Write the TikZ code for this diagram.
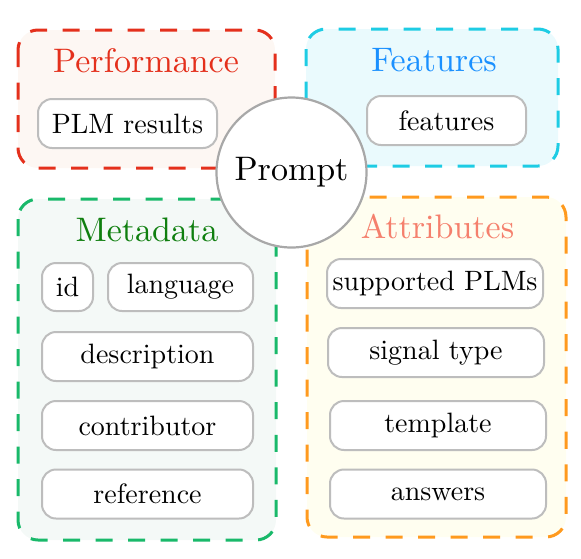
\documentclass[tikz,border=0pt]{standalone}
\usepackage{fontspec}
\setmainfont{lmroman10-regular.otf}
\definecolor{perfline}{HTML}{E4301C}
\definecolor{perffill}{HTML}{FDF7F3}
\definecolor{featline}{HTML}{1ECCE4}
\definecolor{featfill}{HTML}{EAFAFD}
\definecolor{feattext}{HTML}{1A90FF}
\definecolor{metaline}{HTML}{19B96A}
\definecolor{metafill}{HTML}{F4F9F7}
\definecolor{metatext}{HTML}{0F7F0F}
\definecolor{attrline}{HTML}{FF9A1E}
\definecolor{attrfill}{HTML}{FFFEF0}
\definecolor{attrtext}{HTML}{F5806D}
\definecolor{itemline}{HTML}{BDBDBD}
\definecolor{circline}{HTML}{A8A8A8}
\tikzset{
  group/.style={line width=3pt, dash pattern=on 17pt off 15.5pt, rounded corners=20pt},
  item/.style={draw=itemline, line width=2pt, fill=white, rounded corners=14pt,
    minimum height=49pt, inner sep=0pt, font=\fontsize{28}{32}\selectfont},
  title/.style={anchor=base, font=\fontsize{34}{38}\selectfont},
}
\begin{document}
\begin{tikzpicture}[x=1pt,y=-1pt]
\useasboundingbox (0,0) rectangle (581,558);
% group boxes
\draw[group, draw=perfline, fill=perffill] (18,30) rectangle (275,168);
\draw[group, draw=featline, fill=featfill] (306,29) rectangle (558,166);
\draw[group, draw=metaline, fill=metafill] (18,199) rectangle (276,540);
\draw[group, draw=attrline, fill=attrfill] (307,197) rectangle (566,537);
% titles
\node[title, text=perfline] (tperf) at (146,72) {Performance};
\node[title, text=feattext] (tfeat) at (434,71) {Features};
\node[title, text=metatext] (tmeta) at (147,241) {Metadata};
\node[title, text=attrtext] (tattr) at (437.5,238) {Attributes};
% items
\node[item, minimum width=179pt] (plm) at (127.5,123.5) {PLM results};
\node[item, minimum width=159pt] (feat) at (446.5,120.5) {features};
\node[item, minimum width=51pt, minimum height=48pt] (id) at (67.5,287) {id};
\node[item, minimum width=145pt, minimum height=48pt] (lang) at (180.5,287) {language};
\node[item, minimum width=211pt] (desc) at (147.5,356.5) {description};
\node[item, minimum width=211pt] (contr) at (147.5,425.5) {contributor};
\node[item, minimum width=211pt] (ref) at (147.5,494) {reference};
\node[item, minimum width=216pt] (supp) at (435,283.5) {supported PLMs};
\node[item, minimum width=216pt] (sig) at (436,352.5) {signal type};
\node[item, minimum width=216pt] (tmpl) at (438,425.5) {template};
\node[item, minimum width=216pt] (ans) at (438,494) {answers};
% prompt circle
\node[circle, draw=circline, line width=2.2pt, fill=white, minimum size=150pt, inner sep=0pt,
  font=\fontsize{34}{38}\selectfont] (prompt) at (291.5,172.5) {\raisebox{-5pt}{Prompt}};
\end{tikzpicture}
\end{document}
